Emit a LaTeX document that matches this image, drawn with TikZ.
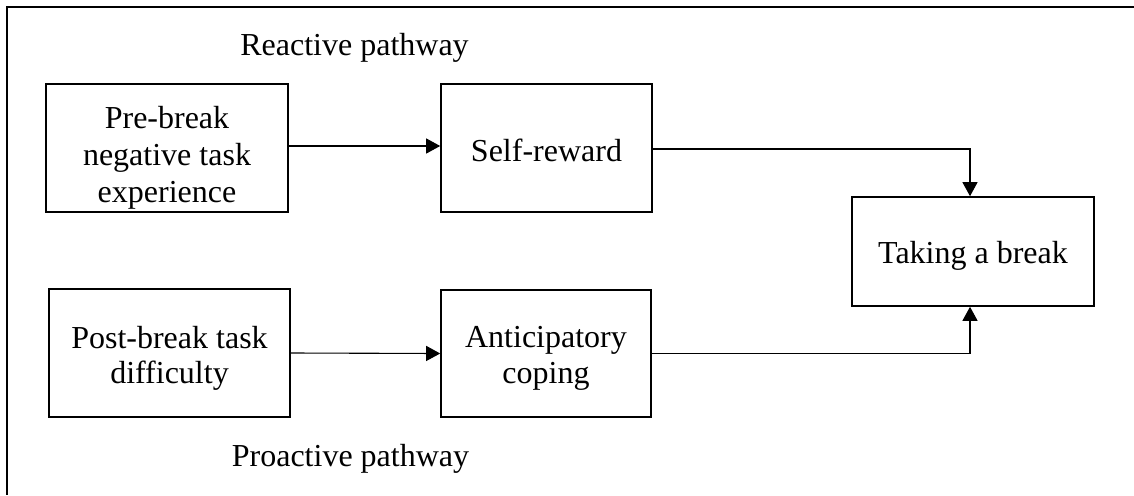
\documentclass[tikz,border=0pt]{standalone}
\usepackage{fontspec}
\setmainfont{Liberation Serif}
\usetikzlibrary{arrows.meta}
\begin{document}
\begin{tikzpicture}[x=1pt,y=-1pt,
  box/.style={draw,line width=1.6pt,rectangle,inner sep=0pt},
  txt/.style={align=center,inner sep=0pt,font=\fontsize{32}{37}\selectfont},
  lbl/.style={font=\fontsize{32}{37}\selectfont,inner sep=0pt,anchor=base},
  conn/.style={line width=1.1pt,-{Triangle[length=14pt,width=15pt]}}]
\useasboundingbox (0,0) rectangle (1134,495);
\draw[line width=2pt] (1134,7) -- (7,7) -- (7,495);
\node[box,minimum width=242pt,minimum height=128pt] (pre) at (167,148) {};
\node[txt] (pret) at ([yshift=-10pt]pre.center) {Pre-break\\negative task\\experience};
\node[box,minimum width=211pt,minimum height=128pt] (self) at (546.5,148) {};
\node[txt] (selft) at ([yshift=-2pt]self.center) {Self-reward};
\node[box,minimum width=242pt,minimum height=109pt] (take) at (973,251.5) {};
\node[txt] (taket) at ([yshift=-4pt]take.center) {Taking a break};
\node[box,minimum width=241pt,minimum height=128pt] (post) at (169.5,353) {};
\node[txt,font=\fontsize{32}{35}\selectfont] (postt) at ([yshift=-5pt]post.center) {Post-break task\\difficulty};
\node[box,minimum width=210pt,minimum height=127pt] (anti) at (546,353.5) {};
\node[txt,font=\fontsize{32}{36}\selectfont] (antit) at ([yshift=-5pt]anti.center) {Anticipatory\\coping};
\node[lbl] (react) at (354.5,56) {Reactive pathway};
\node[lbl] (proact) at (350.5,466) {Proactive pathway};
\draw[conn] ([yshift=2pt]pre.east) -- ([yshift=2pt]self.west);
\draw[conn] (post.east) -- (anti.west);
\draw[conn] ([yshift=-1pt]self.east) -| ([xshift=-3pt]take.north);
\draw[conn] (anti.east) -| ([xshift=-3pt]take.south);
\end{tikzpicture}
\end{document}
